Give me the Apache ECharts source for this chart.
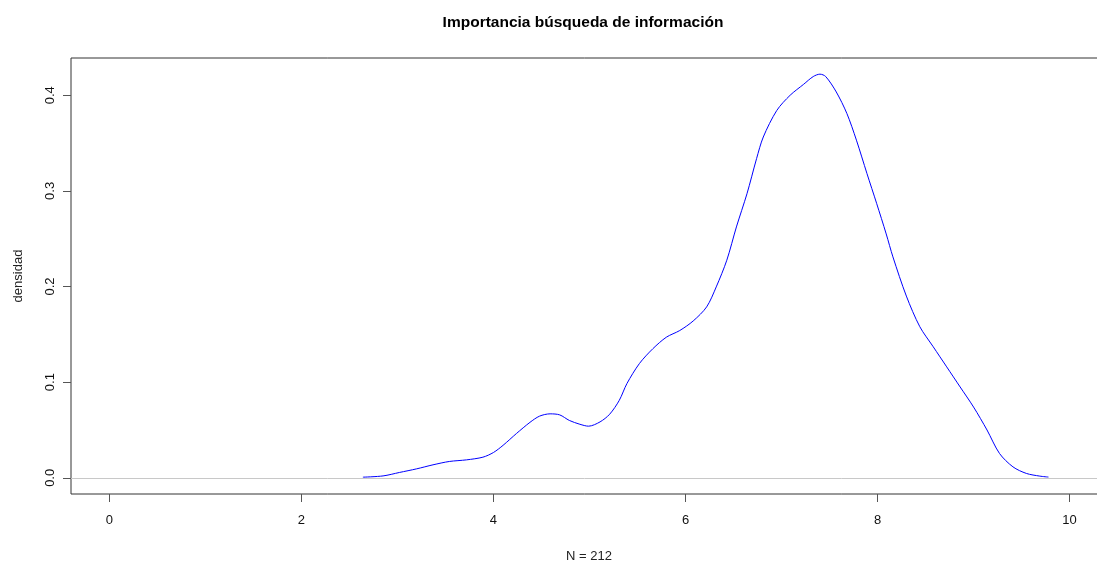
<!DOCTYPE html>
<html>
<head>
<meta charset="utf-8">
<script src="https://cdn.jsdelivr.net/npm/echarts@6/dist/echarts.min.js"></script>
<style>
html,body{margin:0;padding:0;background:#fff;}
#chart{width:1097px;height:564px;}
</style>
</head>
<body>
<div id="chart"></div>
<script>
// Data
var xs = [2.64, 2.85, 3.02, 3.20, 3.37, 3.54, 3.72, 3.89, 4.00, 4.10, 4.24, 4.38, 4.48, 4.59, 4.69, 4.79, 4.90, 4.99, 5.11, 5.21, 5.31, 5.39, 5.52, 5.66, 5.80, 5.94, 6.08, 6.22, 6.32, 6.43, 6.53, 6.64, 6.74, 6.81, 6.95, 7.09, 7.23, 7.33, 7.40, 7.46, 7.57, 7.68, 7.78, 7.89, 7.99, 8.09, 8.16, 8.30, 8.44, 8.58, 8.72, 8.86, 9.00, 9.14, 9.27, 9.41, 9.55, 9.69, 9.78];
var ys = [0.0007, 0.002, 0.0056, 0.0094, 0.0136, 0.0171, 0.0188, 0.0216, 0.0265, 0.034, 0.0464, 0.058, 0.0645, 0.0669, 0.0658, 0.060, 0.056, 0.054, 0.0585, 0.0665, 0.081, 0.0986, 0.1195, 0.135, 0.147, 0.154, 0.164, 0.1787, 0.1996, 0.2275, 0.2623, 0.297, 0.3337, 0.3563, 0.384, 0.400, 0.4114, 0.4195, 0.422, 0.4195, 0.4034, 0.381, 0.353, 0.318, 0.287, 0.255, 0.231, 0.190, 0.158, 0.137, 0.116, 0.095, 0.074, 0.050, 0.0255, 0.0115, 0.0046, 0.0018, 0.0008];
var xTicks = [0, 2, 4, 6, 8, 10];
var yTicks = [0, 0.1, 0.2, 0.3, 0.4];
var titleText = 'Importancia búsqueda de información';
var xLabel = 'N = 212';
var yLabel = 'densidad';

var points = xs.map(function (x, i) { return [x, ys[i]]; });
var font = '"Liberation Sans", Arial, sans-serif';

var chart = echarts.init(document.getElementById('chart'), null, {renderer: 'canvas'});
chart.setOption({
  animation: false,
  backgroundColor: '#ffffff',
  grid: {
    left: 71, top: 58, width: 1037, height: 436,
    outerBoundsMode: 'none',
    show: true, borderColor: '#333', borderWidth: 1, backgroundColor: 'transparent',
    containLabel: false
  },
  xAxis: {
    type: 'value', min: -0.4, max: 10.4,
    axisLine: {show: false, onZero: false},
    splitLine: {show: false},
    axisTick: {show: true, customValues: xTicks, length: 8, inside: false, lineStyle: {color: '#555', width: 1}},
    axisLabel: {customValues: xTicks, margin: 20, fontSize: 13, color: '#111', fontFamily: font}
  },
  yAxis: {
    type: 'value', min: -0.0169, max: 0.4389,
    axisLine: {show: false, onZero: false},
    splitLine: {show: false},
    axisTick: {show: true, customValues: yTicks, length: 8, inside: false, lineStyle: {color: '#555', width: 1}},
    axisLabel: {customValues: yTicks, rotate: 90, margin: 14, fontSize: 13, color: '#111', fontFamily: font,
      formatter: function (v) { return v.toFixed(1); }}
  },
  series: [{
    type: 'line',
    data: points,
    showSymbol: false,
    symbol: 'none',
    smooth: 0.3,
    lineStyle: {color: '#0000ff', width: 1},
    markLine: {
      silent: true,
      symbol: ['none', 'none'],
      label: {show: false},
      lineStyle: {color: '#c8c8c8', width: 1, type: 'solid'},
      data: [{yAxis: 0}]
    },
    z: 3
  }],
  graphic: [
    {type: 'text', x: 583, y: 23, style: {text: titleText, font: 'bold 15.5px ' + font, fill: '#000', textAlign: 'center', textVerticalAlign: 'middle'}},
    {type: 'text', x: 589, y: 556, style: {text: xLabel, font: '13px ' + font, fill: '#222', textAlign: 'center', textVerticalAlign: 'middle'}},
    {type: 'text', x: 18, y: 276, rotation: Math.PI / 2, style: {text: yLabel, font: '13px ' + font, fill: '#222', textAlign: 'center', textVerticalAlign: 'middle'}}
  ]
});
</script>
</body>
</html>
